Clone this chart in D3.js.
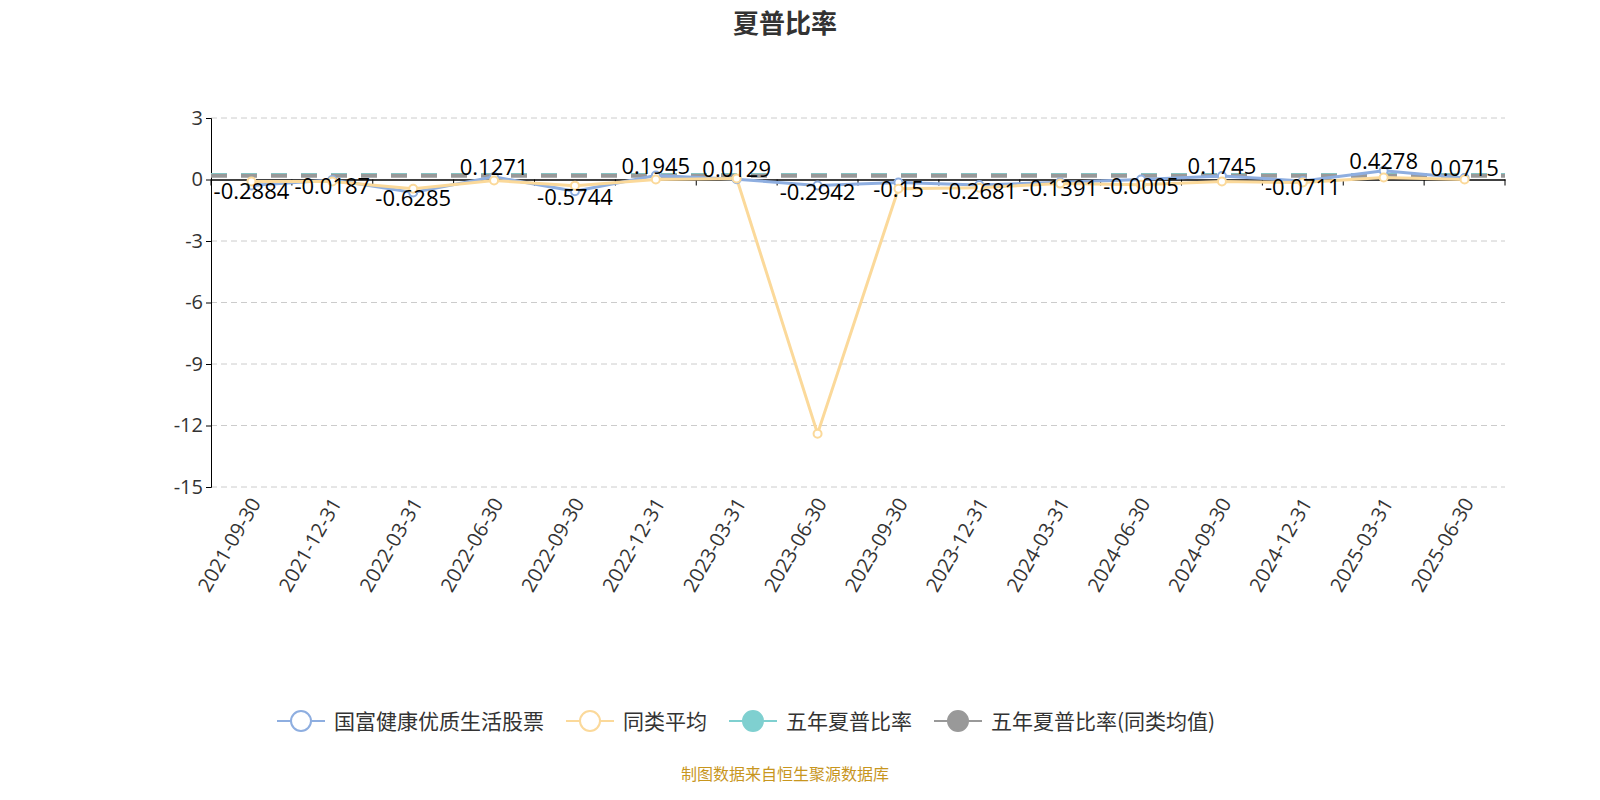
<!DOCTYPE html><html><head><meta charset="utf-8"><script src="https://cdn.jsdelivr.net/npm/d3@7"></script>
<style>body{margin:0;background:#fff;font-family:"Noto Sans CJK SC","Noto Sans",sans-serif}</style></head><body><svg id="c" width="1600" height="800"></svg>
<script>
const categories=["2021-09-30","2021-12-31","2022-03-31","2022-06-30","2022-09-30","2022-12-31","2023-03-31","2023-06-30","2023-09-30","2023-12-31","2024-03-31","2024-06-30","2024-09-30","2024-12-31","2025-03-31","2025-06-30"];
const fund=[-0.2884,-0.0187,-0.6285,0.1271,-0.5744,0.1945,0.0129,-0.2942,-0.15,-0.2681,-0.1391,-0.0005,0.1745,-0.0711,0.4278,0.0715];
const avg=[-0.1,-0.1,-0.45,-0.05,-0.3,0,0.05,-12.4,-0.45,-0.4,-0.2,-0.25,-0.1,-0.15,0.1,0];
const fiveYear=0.22, fiveYearAvg=0.18;
const yTicks=[3,0,-3,-6,-9,-12,-15];
const svg=d3.select("#c");
const L=211,R=1505,T=118,B=487;
const x=d3.scaleBand().domain(categories).range([L,R]);
const y=d3.scaleLinear().domain([-15,3]).range([B,T]);
const cx=d=>x(d)+x.bandwidth()/2;
svg.append("text").attr("x",785).attr("y",33).attr("text-anchor","middle").attr("font-size",26).attr("font-weight","bold").attr("fill","#333").text("夏普比率");
yTicks.forEach(t=>{ if(t!==0) svg.append("line").attr("x1",L).attr("x2",R).attr("y1",y(t)).attr("y2",y(t)).attr("stroke","#ccc").attr("stroke-dasharray","6,4");});
const ya=svg.append("g").attr("transform",`translate(${L},0)`).call(d3.axisLeft(y).tickValues(yTicks).tickSize(5).tickFormat(d=>d));
ya.selectAll("text").attr("font-size",20).attr("fill","#333").attr("font-family","Open Sans,sans-serif");
ya.select(".domain").attr("stroke","#000");
const xa=svg.append("g").attr("transform",`translate(0,${y(0)})`).call(d3.axisBottom(x).tickValues([]).tickSizeOuter(0));
xa.select(".domain").attr("stroke","#000").attr("stroke-width",1.5);
x.domain().concat(["end"]).forEach((d,i)=>{const xx=L+i*x.bandwidth();svg.append("line").attr("x1",xx).attr("x2",xx).attr("y1",y(0)).attr("y2",y(0)+6).attr("stroke","#000");});
categories.forEach(c=>{svg.append("text").attr("transform",`translate(${cx(c)+10},${B+16}) rotate(-60)`).attr("text-anchor","end").attr("font-size",20).attr("fill","#333").attr("font-family","Open Sans,sans-serif").text(c);});
[[fiveYear,"#7fd0d0"],[fiveYearAvg,"#999"]].forEach(([v,c])=>svg.append("line").attr("x1",L).attr("x2",R).attr("y1",y(v)).attr("y2",y(v)).attr("stroke",c).attr("stroke-width",4).attr("stroke-dasharray","16,14"));
const line=d3.line().x((d,i)=>cx(categories[i])).y(d=>y(d));
svg.append("path").attr("d",line(fund)).attr("fill","none").attr("stroke","#8eaee0").attr("stroke-width",3);
svg.append("path").attr("d",line(avg)).attr("fill","none").attr("stroke","#fbd99a").attr("stroke-width",3);
[[fund,"#8eaee0"],[avg,"#fbd99a"]].forEach(([arr,c])=>arr.forEach((v,i)=>svg.append("circle").attr("cx",cx(categories[i])).attr("cy",y(v)).attr("r",4).attr("fill","#fff").attr("stroke",c).attr("stroke-width",2)));
fund.forEach((v,i)=>svg.append("text").attr("x",cx(categories[i])).attr("y",y(v)+(v>=0?-2:14)).attr("text-anchor","middle").attr("font-size",22).attr("fill","#000").attr("font-family","Open Sans,sans-serif").text(v));
const legend=[["国富健康优质生活股票","#8eaee0",false],["同类平均","#fbd99a",false],["五年夏普比率","#7fd0d0",true],["五年夏普比率(同类均值)","#999",true]];
let lx=277;
legend.forEach(([t,c,f])=>{const g=svg.append("g");
g.append("line").attr("x1",lx).attr("x2",lx+48).attr("y1",721).attr("y2",721).attr("stroke",c).attr("stroke-width",2);
g.append("circle").attr("cx",lx+24).attr("cy",721).attr("r",10).attr("fill",f?c:"#fff").attr("stroke",c).attr("stroke-width",2);
const tx=g.append("text").attr("x",lx+57).attr("y",729).attr("font-size",21).attr("fill","#333").text(t);
lx+=57+tx.node().getComputedTextLength()+22;});
svg.append("text").attr("x",785).attr("y",780).attr("text-anchor","middle").attr("font-size",16).attr("fill","#c8961e").text("制图数据来自恒生聚源数据库");
</script></body></html>
